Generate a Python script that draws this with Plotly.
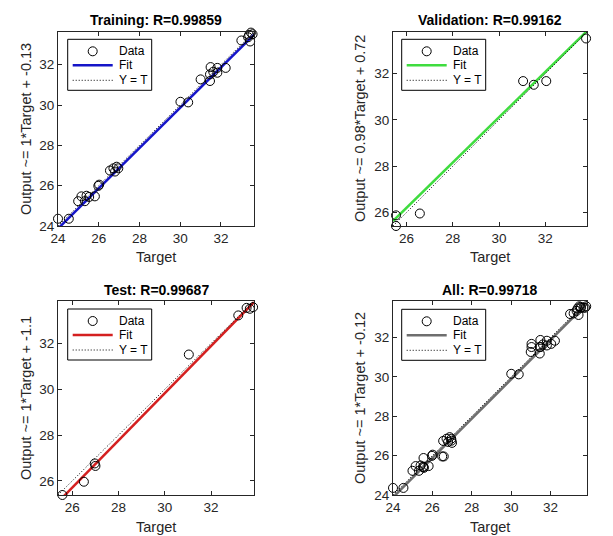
import plotly.graph_objects as go

# ---------------- data ----------------
train_target = [24.0, 24.53, 24.99, 25.15, 25.32, 25.4, 25.53, 25.81, 25.98, 26.02, 26.55, 26.72, 26.88, 26.8, 26.96,
                30.01, 30.39, 31.0, 31.49, 31.46, 31.46, 31.82, 31.82, 32.23, 31.62, 33.0, 33.38, 33.47, 33.55, 33.43, 33.33]
train_output = [24.36, 24.36, 25.23, 25.47, 25.23, 25.5, 25.44, 25.47, 25.99, 26.05, 26.75, 26.86, 26.94, 26.7, 26.86,
                30.16, 30.13, 31.27, 31.88, 31.19, 31.52, 31.84, 31.6, 31.84, 31.65, 33.2, 33.48, 33.59, 33.51, 33.15, 33.36]

val_target = [25.55, 25.55, 26.58, 31.04, 31.5, 32.04, 33.76]
val_output = [25.88, 25.42, 25.96, 31.68, 31.52, 31.68, 33.52]

test_target = [25.57, 26.5, 26.97, 27.0, 31.04, 33.18, 33.54, 33.68, 33.82]
test_output = [25.38, 25.96, 26.76, 26.65, 31.52, 33.23, 33.56, 33.52, 33.59]

all_target = train_target + val_target + test_target
all_output = train_output + val_output + test_output

titles = ["Training: R=0.99859", "Validation: R=0.99162", "Test: R=0.99687", "All: R=0.99718"]
xlabel = "Target"
ylabels = ["Output ~= 1*Target + -0.13", "Output ~= 0.98*Target + 0.72",
           "Output ~= 1*Target + -1.1", "Output ~= 1*Target + -0.12"]
legend_labels = ["Data", "Fit", "Y = T"]
fit_slope = [1.0, 0.98, 1.031, 1.0]
fit_intercept = [-0.13, 0.72, -1.1, -0.12]
fit_colors = ["#1515c8", "#3fdc3f", "#d42020", "#6e6e6e"]
limits = [[24.0, 33.62], [25.42, 33.8], [25.38, 33.86], [24.0, 33.86]]
tick_vals = [[24, 26, 28, 30, 32], [26, 28, 30, 32], [26, 28, 30, 32], [24, 26, 28, 30, 32]]

targets = [train_target, val_target, test_target, all_target]
outputs = [train_output, val_output, test_output, all_output]

# ---------------- layout geometry (pixels) ----------------
W, H = 613, 536
col_px = [(58, 254), (393, 587)]
row_px = [(32, 226), (301, 495)]
title_y_px = [20, 290]
xlabel_y_px = [257, 527]
ylabel_x_px = [26, 360]
legend_px = [(67.7, 39.3), (401.7, 39.3), (67.7, 309), (401.7, 309.3)]
LEG_W, LEG_H = 84, 51
LEG_ROWS = [12, 26, 41]
DOT = "1px,2px"

FONT = "Liberation Sans, Arial, Helvetica, sans-serif"
AXC = "#262626"


def px(x):
    return x / W


def py(y):
    return 1 - y / H


fig = go.Figure()
layout = dict(width=W, height=H, margin=dict(l=0, r=0, t=0, b=0), template="none",
              plot_bgcolor="white", paper_bgcolor="white", showlegend=False,
              font=dict(family=FONT, color=AXC))
annotations = []
shapes = []

for i in range(4):
    r, c = divmod(i, 2)
    ax = "" if i == 0 else str(i + 1)
    xa, ya = "x" + ax, "y" + ax
    lo, hi = limits[i]

    # fit line
    fig.add_trace(go.Scatter(x=[lo, hi], y=[fit_slope[i] * lo + fit_intercept[i], fit_slope[i] * hi + fit_intercept[i]],
                             mode="lines", line=dict(color=fit_colors[i], width=2.5), name="Fit",
                             xaxis=xa, yaxis=ya))
    # Y = T
    fig.add_trace(go.Scatter(x=[lo, hi], y=[lo, hi], mode="lines", line=dict(color="black", width=1, dash=DOT),
                             name="Y = T", xaxis=xa, yaxis=ya))
    # data
    fig.add_trace(go.Scatter(x=targets[i], y=outputs[i], mode="markers", name="Data",
                             marker=dict(symbol="circle-open", size=9, color="black", line=dict(width=1)),
                             cliponaxis=False, xaxis=xa, yaxis=ya))

    x0, x1 = col_px[c]
    y0, y1 = row_px[r]
    axis_common = dict(range=[lo, hi], showgrid=False, zeroline=False, showline=True, linecolor=AXC, linewidth=1,
                       mirror="allticks", ticks="inside", ticklen=4, tickcolor=AXC, tickvals=tick_vals[i],
                       automargin=False, tickfont=dict(size=13.5, color=AXC, family=FONT))
    layout["xaxis" + ax] = dict(axis_common, domain=[px(x0), px(x1)], anchor=ya)
    layout["yaxis" + ax] = dict(axis_common, domain=[py(y1), py(y0)], anchor=xa)

    # titles and axis labels
    annotations.append(dict(text="<b>" + titles[i] + "</b>", x=px((x0 + x1) / 2), y=py(title_y_px[r]),
                            xref="paper", yref="paper", xanchor="center", yanchor="middle", showarrow=False,
                            font=dict(size=14, color="black", family=FONT)))
    annotations.append(dict(text=xlabel, x=px((x0 + x1) / 2), y=py(xlabel_y_px[r]),
                            xref="paper", yref="paper", xanchor="center", yanchor="middle", showarrow=False,
                            font=dict(size=14.5, color=AXC, family=FONT)))
    annotations.append(dict(text=ylabels[i], x=px(ylabel_x_px[c]), y=py((y0 + y1) / 2), textangle=-90,
                            xref="paper", yref="paper", xanchor="center", yanchor="middle", showarrow=False,
                            font=dict(size=14.5, color=AXC, family=FONT)))

    # legend box (drawn as shapes + text)
    lx, ly = legend_px[i]
    shapes.append(dict(type="rect", xref="paper", yref="paper", x0=px(lx), x1=px(lx + LEG_W),
                       y0=py(ly + LEG_H), y1=py(ly), line=dict(color="black", width=1), fillcolor="white", layer="above"))
    cy = ly + LEG_ROWS[0]
    shapes.append(dict(type="circle", xref="paper", yref="paper", x0=px(lx + 25 - 4.5), x1=px(lx + 25 + 4.5),
                       y0=py(cy + 4.5), y1=py(cy - 4.5), line=dict(color="black", width=1), layer="above"))
    cy = ly + LEG_ROWS[1]
    shapes.append(dict(type="line", xref="paper", yref="paper", x0=px(lx + 5), x1=px(lx + 45),
                       y0=py(cy), y1=py(cy), line=dict(color=fit_colors[i], width=2.5), layer="above"))
    cy = ly + LEG_ROWS[2]
    shapes.append(dict(type="line", xref="paper", yref="paper", x0=px(lx + 5), x1=px(lx + 45),
                       y0=py(cy), y1=py(cy), line=dict(color="black", width=1, dash=DOT), layer="above"))
    for k, lab in enumerate(legend_labels):
        annotations.append(dict(text=lab, x=px(lx + 49), y=py(ly + LEG_ROWS[k]), xref="paper", yref="paper",
                                xanchor="left", yanchor="middle", showarrow=False,
                                font=dict(size=12, color="black", family=FONT)))

layout["annotations"] = annotations
layout["shapes"] = shapes
fig.update_layout(**layout)
fig.write_html("out.html", config={"displayModeBar": False},
               post_script="document.body.style.margin='0px';")
